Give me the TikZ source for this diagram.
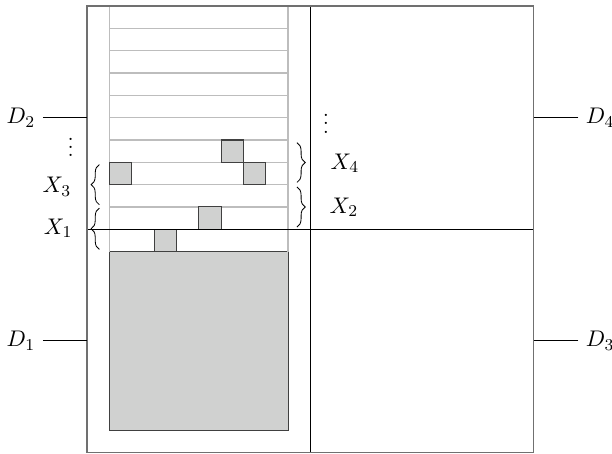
\documentclass[tikz,border=0pt]{standalone}
\usetikzlibrary{decorations.pathreplacing}
\definecolor{slabFill}{HTML}{d0d1d0}
\definecolor{rowGrey}{HTML}{bdbdbd}
\definecolor{edgeGrey}{HTML}{707070}
\tikzset{
  frame/.style={draw=edgeGrey, line width=0.8pt},
  divide/.style={draw=black, line width=0.5pt},
  row/.style={draw=rowGrey, line width=0.6pt},
  cell/.style={draw=black!75, fill=slabFill, line width=0.5pt},
  tick/.style={draw=black, line width=0.5pt},
  brc/.style={decorate, decoration={brace, amplitude=4pt}, line width=0.4pt},
  lbl/.style={inner sep=0pt, font=\fontsize{11}{13}\selectfont},
  dlbl/.style={inner sep=3.5pt, font=\fontsize{11}{13}\selectfont},
}

\begin{document}
\begin{tikzpicture}[x=0.38cm,y=0.38cm]
  \useasboundingbox (-3.9,-0.06) rectangle (23.51,20.27);
  % filled block and rows of the column
  \filldraw[cell] (1,1) rectangle (9,9);
  \foreach \r in {10,...,19}{\draw[row] (1,\r) -- (9,\r);}
  \draw[row] (1,9) -- (1,20); \draw[row] (9,9) -- (9,20);
  % single cells
  \filldraw[cell] (6,13) rectangle (7,14);
  \filldraw[cell] (1,12) rectangle (2,13);
  \filldraw[cell] (7,12) rectangle (8,13);
  \filldraw[cell] (5,10) rectangle (6,11);
  \filldraw[cell] (3,9) rectangle (4,10);
  % quadrants
  \draw[divide] (10,0) -- (10,20);
  \draw[divide] (0,10) -- (20,10);
  \draw[frame] (0,0) rectangle (20,20);
  % domain labels
  \coordinate (d1) at (0,5);  \coordinate (d2) at (0,15);
  \coordinate (d3) at (20,5); \coordinate (d4) at (20,15);
  \node[dlbl,anchor=east] (D1) at (-1.98,5) {$D_1$};
  \node[dlbl,anchor=east] (D2) at (-1.98,15) {$D_2$};
  \node[dlbl,anchor=west] (D3) at (22,5) {$D_3$};
  \node[dlbl,anchor=west] (D4) at (22,15) {$D_4$};
  \draw[tick] (D1) -- (d1); \draw[tick] (D2) -- (d2);
  \draw[tick] (D3) -- (d3); \draw[tick] (D4) -- (d4);
  % braces
  \coordinate (b1s) at (0.55,9.1);  \coordinate (b1e) at (0.55,10.95);
  \coordinate (b3s) at (0.55,11.1); \coordinate (b3e) at (0.55,12.9);
  \coordinate (b2s) at (9.4,11.9);  \coordinate (b2e) at (9.4,10.1);
  \coordinate (b4s) at (9.4,13.88); \coordinate (b4e) at (9.4,12.1);
  \draw[brc] (b1s) -- (b1e); \draw[brc] (b3s) -- (b3e);
  \draw[brc] (b2s) -- (b2e); \draw[brc] (b4s) -- (b4e);
  \node[lbl] (X1) at (-1.3,10.05) {$X_1$};
  \node[lbl] (X3) at (-1.35,11.9) {$X_3$};
  \node[lbl] (X2) at (11.5,11.0) {$X_2$};
  \node[lbl] (X4) at (11.55,12.95) {$X_4$};
  \node[lbl] (vl) at (-0.73,13.95) {$\vdots$};
  \node[lbl] (vr) at (10.7,15.0) {$\vdots$};
\end{tikzpicture}
\end{document}
